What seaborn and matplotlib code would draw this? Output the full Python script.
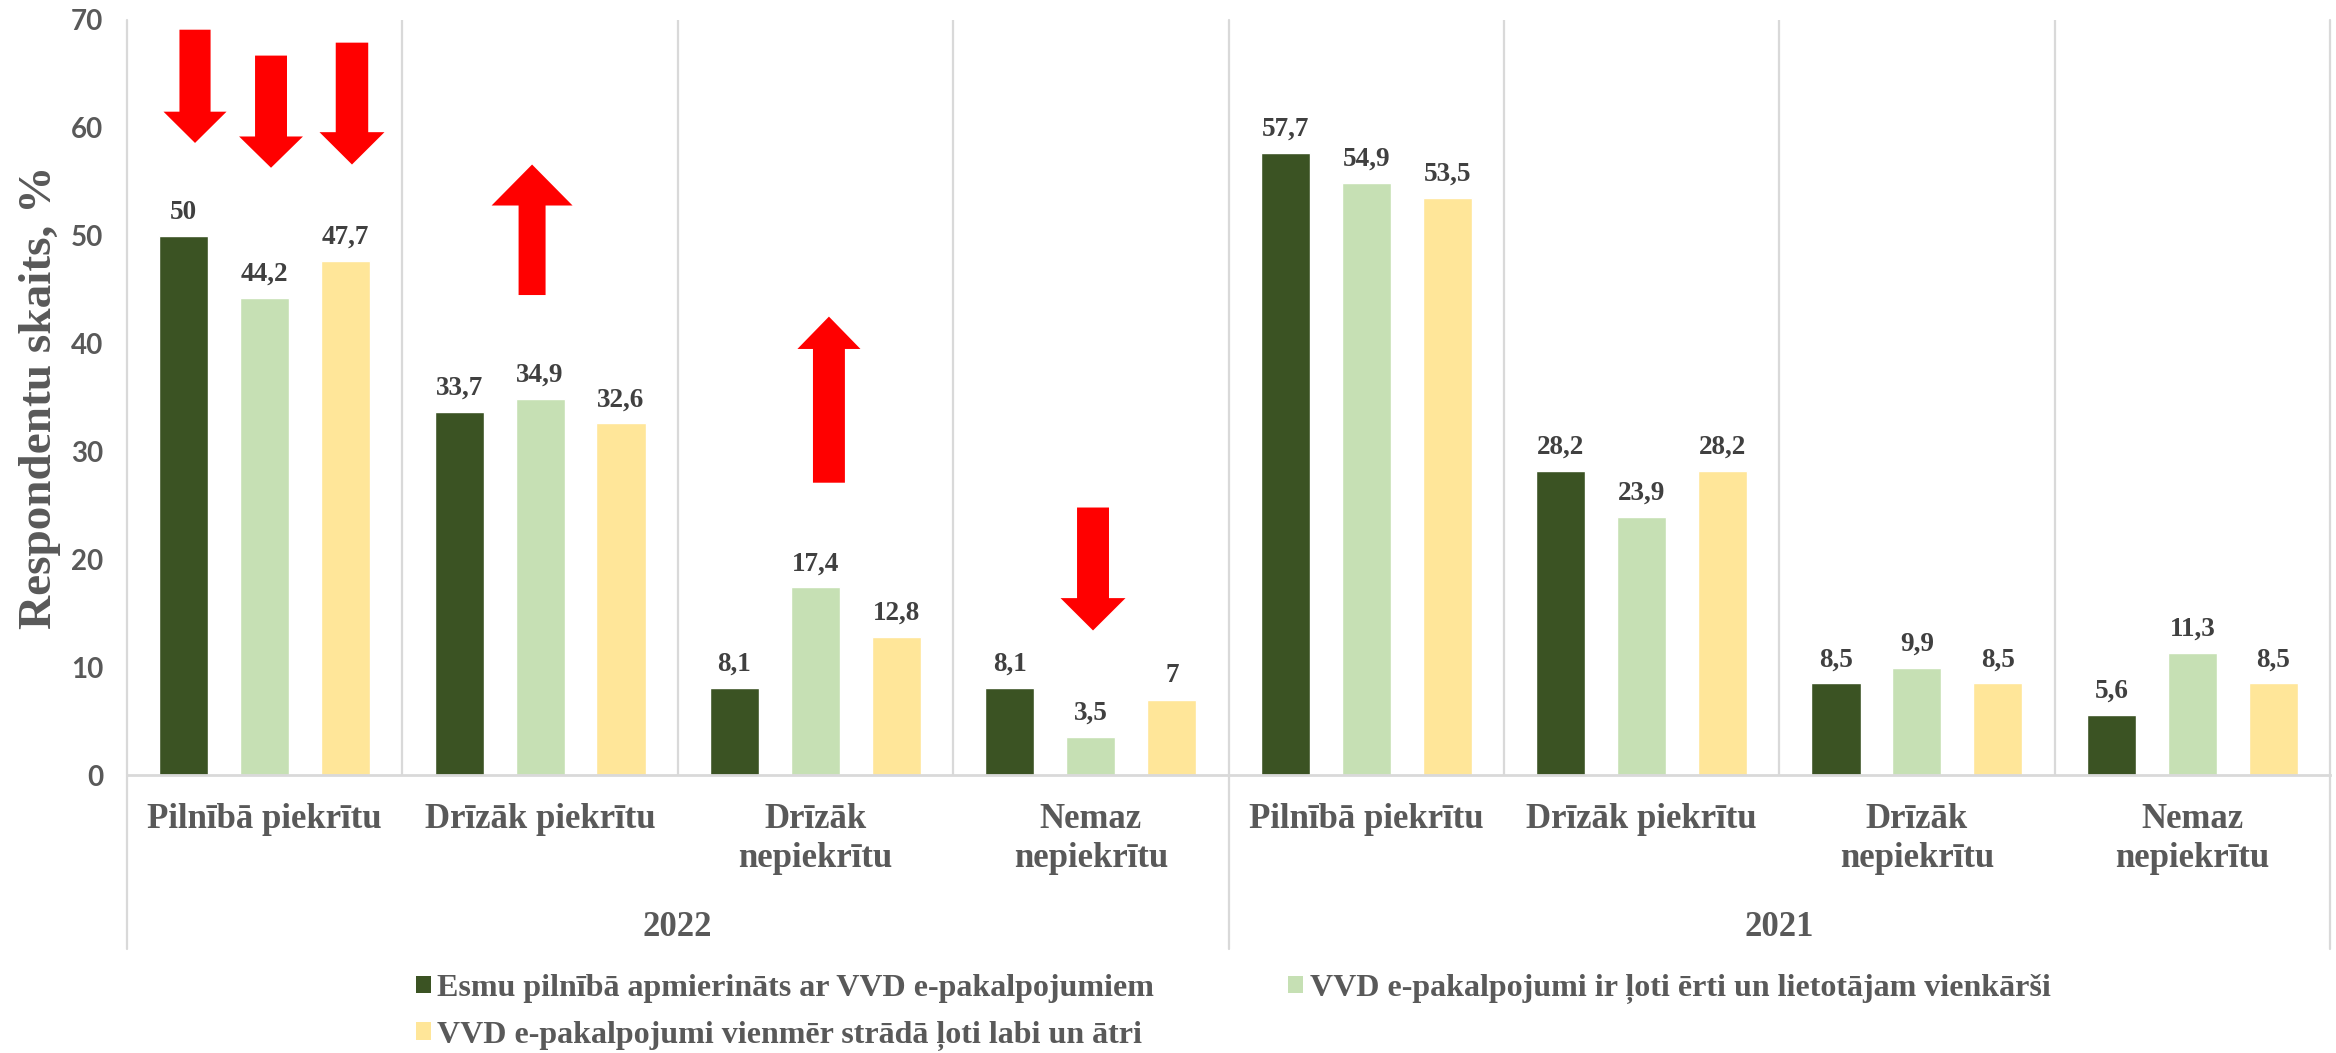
import matplotlib
matplotlib.use("Agg")
import matplotlib.pyplot as plt
import matplotlib.transforms as mtransforms
from matplotlib.patches import Polygon, Patch
import seaborn as sns
import pandas as pd

# ---------------- data ----------------
years = ["2022", "2021"]
answers = ["Pilnībā piekrītu", "Drīzāk piekrītu", "Drīzāk\nnepiekrītu", "Nemaz\nnepiekrītu"]
series_names = [
    "Esmu pilnībā apmierināts ar VVD e-pakalpojumiem",
    "VVD e-pakalpojumi ir ļoti ērti un lietotājam vienkārši",
    "VVD e-pakalpojumi vienmēr strādā ļoti labi un ātri",
]
satisfied_2022 = [50.0, 33.7, 8.1, 8.1]
easy_2022 = [44.2, 34.9, 17.4, 3.5]
fast_2022 = [47.7, 32.6, 12.8, 7.0]
satisfied_2021 = [57.7, 28.2, 8.5, 5.6]
easy_2021 = [54.9, 23.9, 9.9, 11.3]
fast_2021 = [53.5, 28.2, 8.5, 8.5]

colors = ["#3B5323", "#C6E0B4", "#FFE699"]

# red change arrows (annotations): category position, tail, head base, tip (in value units)
arrow_x = [-0.253, 0.023, 0.317, 0.971, 2.049, 3.008]
arrow_tail = [69.1, 66.7, 67.9, 44.5, 27.1, 24.8]
arrow_head_base = [61.5, 59.2, 59.6, 52.8, 39.5, 16.4]
arrow_tip = [58.6, 56.3, 56.6, 56.6, 42.5, 13.4]
arrow_shaft_w = [0.113, 0.116, 0.118, 0.098, 0.116, 0.116]
arrow_head_w = [0.229, 0.232, 0.236, 0.294, 0.229, 0.236]

# ---------------- build long table ----------------
rows = []
values = {
    "2022": [satisfied_2022, easy_2022, fast_2022],
    "2021": [satisfied_2021, easy_2021, fast_2021],
}
order = []
for y in years:
    for a in answers:
        order.append(f"{y}|{a}")
for y in years:
    for s_i, s in enumerate(series_names):
        for a_i, a in enumerate(answers):
            rows.append({"cat": f"{y}|{a}", "series": s, "value": values[y][s_i][a_i]})
df = pd.DataFrame(rows)

# ---------------- plot ----------------
sns.set_theme(style="white")
plt.rcParams["font.family"] = ["Liberation Serif", "DejaVu Serif"]

W, H = 2336, 1053
fig = plt.figure(figsize=(W / 100, H / 100), dpi=100)
ax_left, ax_right, ax_top, ax_bottom = 127, 2330, 20, 775
ax = fig.add_axes([ax_left / W, (H - ax_bottom) / H, (ax_right - ax_left) / W, (ax_bottom - ax_top) / H])

sns.barplot(data=df, x="cat", y="value", hue="series", order=order, hue_order=series_names,
            palette=colors, saturation=1, width=0.882, gap=0.394, errorbar=None, ax=ax,
            legend=False)

ax.set_xlim(-0.5, len(order) - 0.5)
ax.set_ylim(0, 70)
ax.set_yticks(range(0, 71, 10))
ax.set_yticklabels([str(v) for v in range(0, 71, 10)], family="Lato", fontweight="bold",
                   fontsize=20, color="#595959")
ax.tick_params(axis="y", length=0, pad=17)
ax.set_xticks(range(len(order)))
ax.set_xticklabels([a for y in years for a in answers], fontsize=25, fontweight="bold",
                   color="#595959", linespacing=1.25)
ax.tick_params(axis="x", length=0, pad=20)
ax.set_xlabel("")
ax.set_ylabel("Respondentu skaits, %", fontsize=34, fontweight="bold", color="#595959")
ax.yaxis.set_label_coords((61 - ax_left) / (ax_right - ax_left), 0.5)

for sp in ["top", "right", "left"]:
    ax.spines[sp].set_visible(False)
ax.spines["bottom"].set_color("#D9D9D9")
ax.spines["bottom"].set_linewidth(2)

grid_c = "#D9D9D9"
for xb in [0.5, 1.5, 2.5, 4.5, 5.5, 6.5]:
    ax.axvline(xb, color=grid_c, lw=1.6, zorder=0)
blend = mtransforms.blended_transform_factory(ax.transData, ax.transAxes)
low = -((949 - ax_bottom) / (ax_bottom - ax_top))
for xb in [-0.5, 3.5, 7.5]:
    ax.plot([xb, xb], [low, 1], color=grid_c, lw=1.6, transform=blend, clip_on=False, zorder=0)

# year labels
year_y = -((928 - ax_bottom) / (ax_bottom - ax_top))
for i, y in enumerate(years):
    ax.text(1.5 + 4 * i, year_y, y, transform=blend, ha="center", va="center",
            fontsize=25, fontweight="bold", color="#595959")

# data labels
def fmt(v):
    return str(int(v)) if float(v).is_integer() else f"{v:.1f}".replace(".", ",")

for cont in ax.containers:
    labels = [fmt(round(bar.get_height(), 1)) for bar in cont]
    ax.bar_label(cont, labels=labels, padding=8, fontsize=19.5, fontweight="bold", color="#404040")

# arrows
for xc, tail, hb, tip, sw, hw in zip(arrow_x, arrow_tail, arrow_head_base, arrow_tip,
                                     arrow_shaft_w, arrow_head_w):
    pts = [
        (xc - sw / 2, tail), (xc - sw / 2, hb), (xc - hw / 2, hb),
        (xc, tip), (xc + hw / 2, hb), (xc + sw / 2, hb), (xc + sw / 2, tail),
    ]
    ax.add_patch(Polygon(pts, closed=True, facecolor="#FF0000", edgecolor="none", zorder=5))

# legend
handles = [Patch(facecolor=c, edgecolor="none") for c in colors]
leg = fig.legend([handles[0], handles[2], handles[1]],
                 [series_names[0], series_names[2], series_names[1]],
                 ncol=2, loc="upper left", bbox_to_anchor=(416 / W, (H - 974) / H),
                 frameon=False, borderpad=0, borderaxespad=0,
                 handlelength=0.47, handleheight=0.47, handletextpad=0.2,
                 columnspacing=4.2, labelspacing=0.55,
                 prop={"family": "Liberation Serif", "weight": "bold", "size": 23})
for t in leg.get_texts():
    t.set_color("#595959")

fig.savefig("out.png", dpi=100)
